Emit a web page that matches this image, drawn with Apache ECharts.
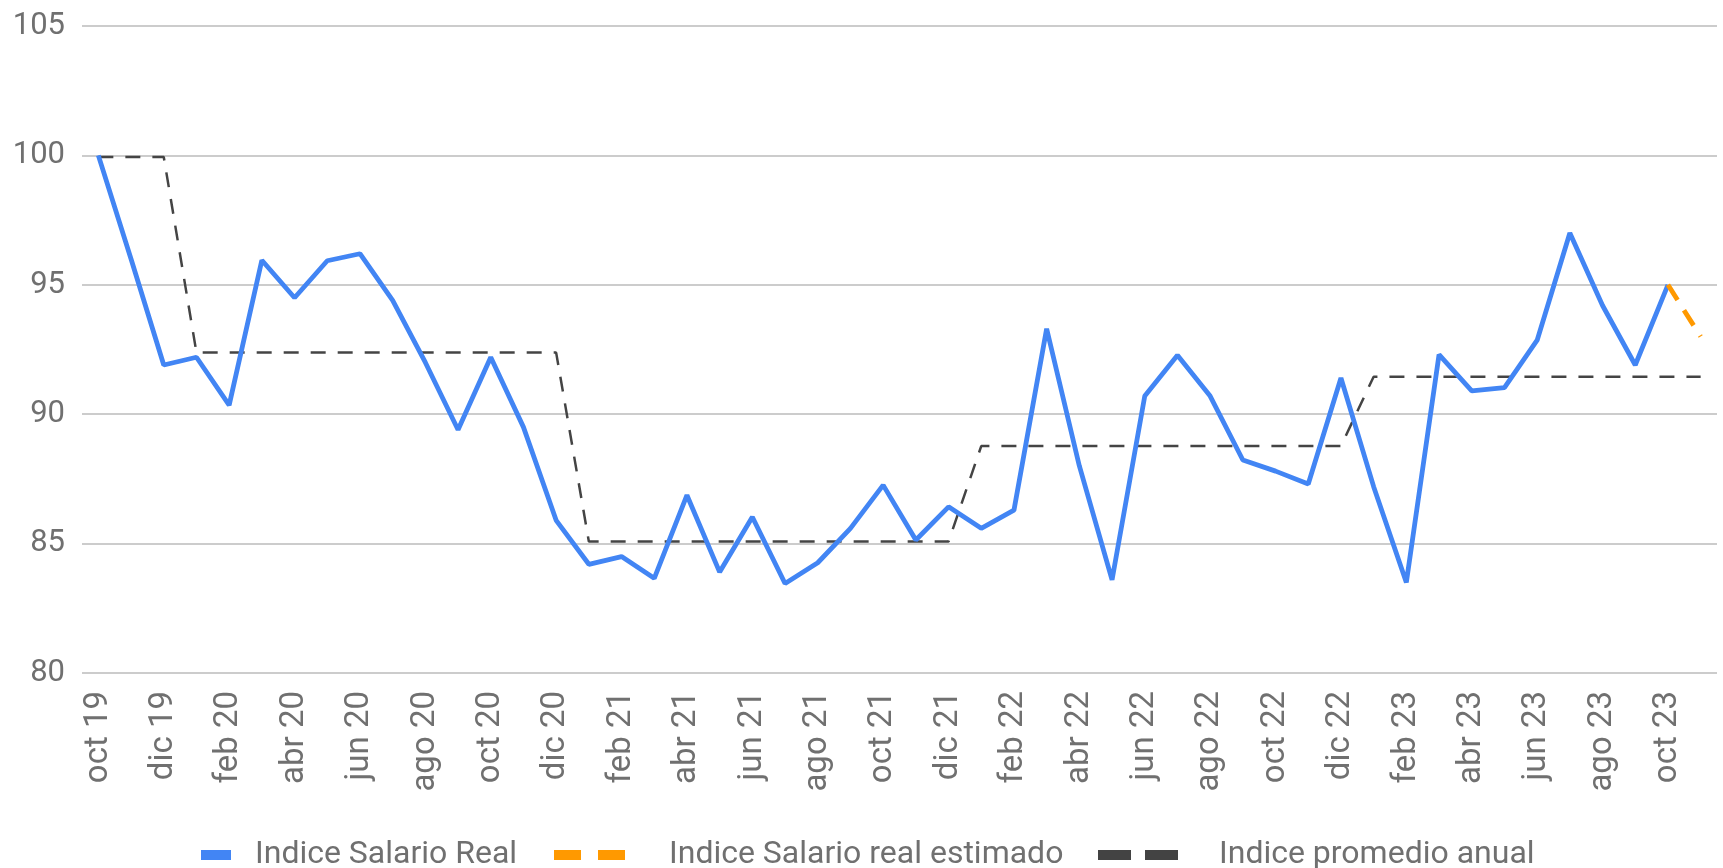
<!DOCTYPE html>
<html>
<head>
<meta charset="utf-8">
<script src="https://cdn.jsdelivr.net/npm/echarts@6/dist/echarts.min.js"></script>
<style>
html,body{margin:0;padding:0;background:#fff;}
#c{width:1723px;height:868px;}
</style>
</head>
<body>
<div id="c"></div>
<script>
const categories = [
  'oct 19','nov 19','dic 19',
  'ene 20','feb 20','mar 20','abr 20','may 20','jun 20','jul 20','ago 20','sep 20','oct 20','nov 20','dic 20',
  'ene 21','feb 21','mar 21','abr 21','may 21','jun 21','jul 21','ago 21','sep 21','oct 21','nov 21','dic 21',
  'ene 22','feb 22','mar 22','abr 22','may 22','jun 22','jul 22','ago 22','sep 22','oct 22','nov 22','dic 22',
  'ene 23','feb 23','mar 23','abr 23','may 23','jun 23','jul 23','ago 23','sep 23','oct 23','nov 23'
];
const salarioReal = [
  100.0, 96.0, 91.9,
  92.2, 90.35, 95.95, 94.5, 95.93, 96.2, 94.4, 92.0, 89.4, 92.2, 89.5, 85.9,
  84.2, 84.5, 83.66, 86.87, 83.9, 86.03, 83.46, 84.26, 85.59, 87.26, 85.14, 86.42,
  85.59, 86.29, 93.3, 88.0, 83.6, 90.7, 92.28, 90.7, 88.23, 87.8, 87.3, 91.4,
  87.2, 83.5, 92.3, 90.9, 91.03, 92.86, 97.0, 94.2, 91.9, 95.0, null
];
const salarioEstimado = [
  null, null, null,
  null, null, null, null, null, null, null, null, null, null, null, null,
  null, null, null, null, null, null, null, null, null, null, null, null,
  null, null, null, null, null, null, null, null, null, null, null, null,
  null, null, null, null, null, null, null, null, null, 95.0, 93.0
];
const promedioAnual = [
  99.94, 99.94, 99.94,
  92.38, 92.38, 92.38, 92.38, 92.38, 92.38, 92.38, 92.38, 92.38, 92.38, 92.38, 92.38,
  85.08, 85.08, 85.08, 85.08, 85.08, 85.08, 85.08, 85.08, 85.08, 85.08, 85.08, 85.08,
  88.77, 88.77, 88.77, 88.77, 88.77, 88.77, 88.77, 88.77, 88.77, 88.77, 88.77, 88.77,
  91.45, 91.45, 91.45, 91.45, 91.45, 91.45, 91.45, 91.45, 91.45, 91.45, 91.45
];
const yTicks = { min: 80, max: 105, interval: 5 };
const seriesNames = ['Indice Salario Real', 'Indice Salario real estimado', 'Indice promedio anual'];

const FONT = 'Roboto';
const chart = echarts.init(document.getElementById('c'), null, { renderer: 'canvas' });
const legendText = { color: '#707070', fontSize: 32, fontFamily: FONT };
chart.setOption({
  animation: false,
  backgroundColor: '#ffffff',
  grid: { left: 82, right: 6, top: 26, bottom: 195, containLabel: false },
  legend: [
    {
      data: [seriesNames[0]], left: 196, top: 834, icon: 'rect',
      itemWidth: 30, itemHeight: 10,
      itemStyle: { color: '#4285F4', borderWidth: 0 },
      textStyle: Object.assign({ padding: [0, 0, 0, 19] }, legendText)
    },
    {
      data: [seriesNames[1]], left: 549, top: 834,
      icon: 'path://M0,0H27V10H0Z M44,0H71V10H44Z',
      itemWidth: 71, itemHeight: 10,
      itemStyle: { color: '#FF9900', borderWidth: 0 },
      textStyle: Object.assign({ padding: [0, 0, 0, 39] }, legendText)
    },
    {
      data: [seriesNames[2]], left: 1093, top: 834,
      icon: 'path://M0,0H33V10H0Z M47,0H80V10H47Z',
      itemWidth: 80, itemHeight: 10,
      itemStyle: { color: '#434343', borderWidth: 0 },
      textStyle: Object.assign({ padding: [0, 0, 0, 36] }, legendText)
    }
  ],
  xAxis: {
    type: 'category',
    data: categories,
    boundaryGap: true,
    axisLine: { show: false },
    axisTick: { show: false },
    axisLabel: {
      interval: 1, rotate: 90, margin: 18,
      color: '#707070', fontSize: 33, fontFamily: FONT
    }
  },
  yAxis: {
    type: 'value',
    min: yTicks.min, max: yTicks.max, interval: yTicks.interval,
    axisLine: { show: false },
    axisTick: { show: false },
    axisLabel: { margin: 17, color: '#707070', fontSize: 31, fontFamily: FONT },
    splitLine: { lineStyle: { color: '#cccccc', width: 2 } }
  },
  series: [
    {
      name: seriesNames[0], type: 'line', data: salarioReal,
      showSymbol: false, symbol: 'none',
      lineStyle: { color: '#4285F4', width: 4.8 },
      itemStyle: { color: '#4285F4' }, z: 3
    },
    {
      name: seriesNames[1], type: 'line', data: salarioEstimado,
      showSymbol: false, symbol: 'none',
      lineStyle: { color: '#FF9900', width: 4.8, type: [18, 12] },
      itemStyle: { color: '#FF9900' }, z: 4
    },
    {
      name: seriesNames[2], type: 'line', data: promedioAnual,
      showSymbol: false, symbol: 'none',
      lineStyle: { color: '#444444', width: 2.5, type: [15, 12] },
      itemStyle: { color: '#444444' }, z: 2
    }
  ]
});
</script>
</body>
</html>
